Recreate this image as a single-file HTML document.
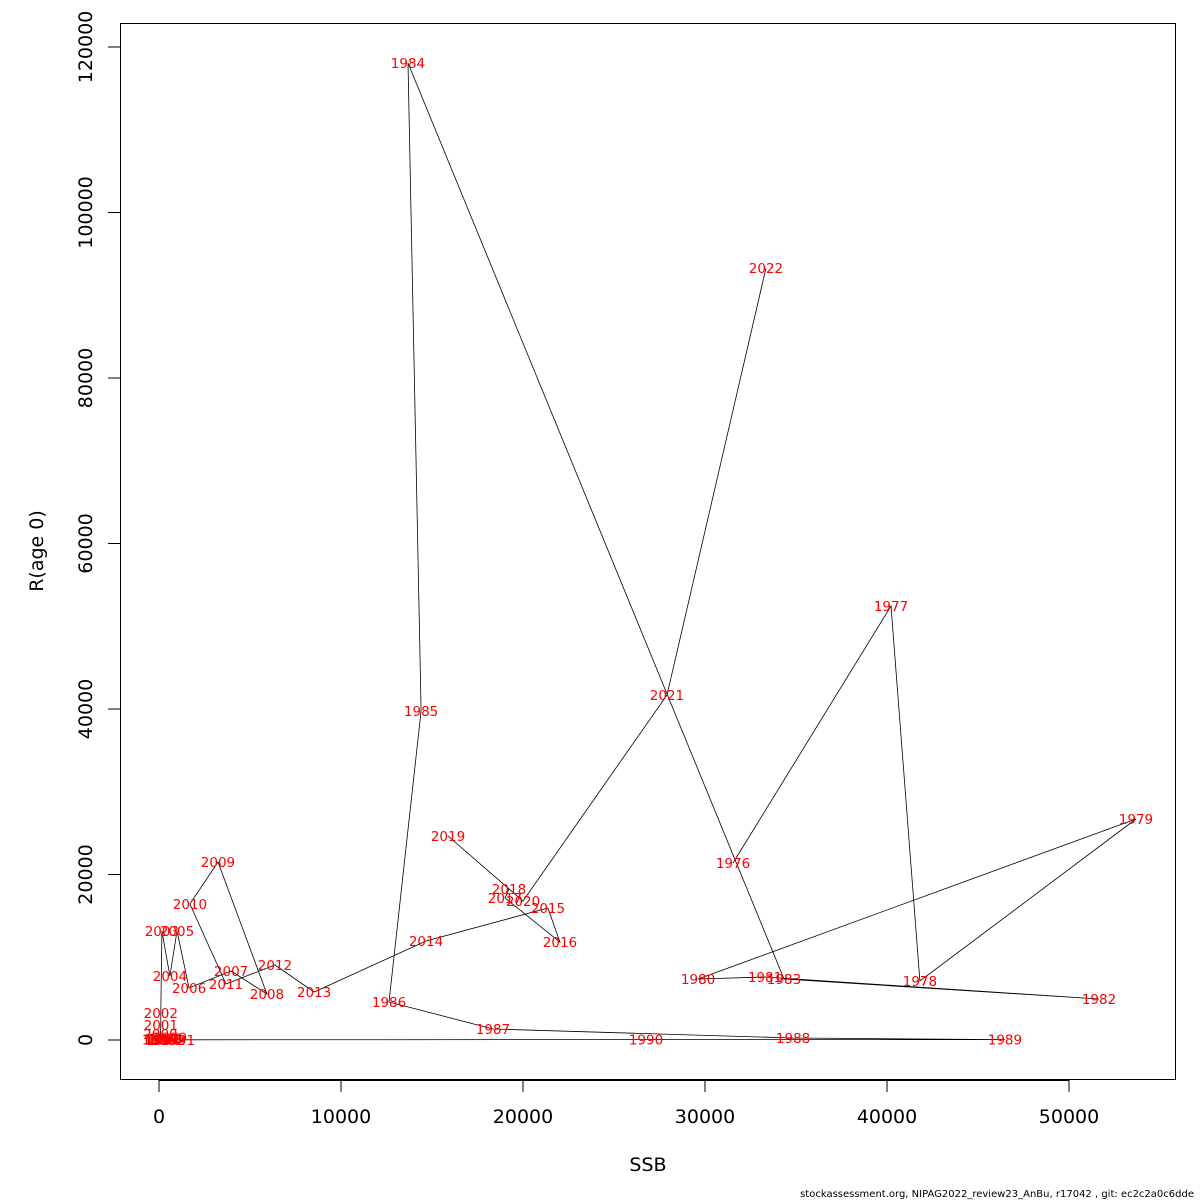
<!DOCTYPE html>
<html><head><meta charset="utf-8"><style>
html,body{margin:0;padding:0;background:#fff;width:1200px;height:1200px;overflow:hidden}
svg{display:block;font-family:"DejaVu Sans","Liberation Sans",sans-serif}
</style></head><body>
<svg id="chart" width="1200" height="1200" viewBox="0 0 1200 1200" xmlns="http://www.w3.org/2000/svg">
<rect x="120.5" y="23.5" width="1055" height="1056" fill="none" stroke="#000" stroke-width="1"/>
<text x="648" y="1171" font-size="19" text-anchor="middle">SSB</text>
<text transform="translate(43,551) rotate(-90)" font-size="19" text-anchor="middle">R(age 0)</text>
<text x="1194" y="1197" font-size="10" text-anchor="end">stockassessment.org, NIPAG2022_review23_AnBu, r17042 , git: ec2c2a0c6dde</text>
<g id="xaxis"></g>
<g id="yaxis"></g>
<g id="series"></g>
<g id="labels"></g>
</svg>
<script>
const years = [1976,1977,1978,1979,1980,1981,1982,1983,1984,1985,1986,1987,1988,1989,1990,1991,1992,1993,1994,1995,1996,1997,1998,1999,2000,2001,2002,2003,2004,2005,2006,2007,2008,2009,2010,2011,2012,2013,2014,2015,2016,2017,2018,2019,2020,2021,2022];
const ssb = [31540,40220,41810,53680,29620,33300,51650,34340,13680,14400,12640,18350,34840,46480,26760,1040,500,300,200,100,0,150,350,600,80,100,100,160,600,990,1650,3960,5930,3240,1700,3680,6370,8520,14670,21370,22030,19010,19230,15880,20000,27910,33350];
const rec = [21390,52450,7130,26710,7370,7610,4950,7370,118070,39760,4590,1330,240,50,50,30,20,40,30,60,50,100,200,300,700,1800,3260,13170,7730,13170,6280,8340,5560,21510,16430,6770,9060,5800,11960,15950,11840,17160,18250,24650,16800,41690,93290];
const xTicks = [0,10000,20000,30000,40000,50000];
const yTicks = [0,20000,40000,60000,80000,100000,120000];
const NS='http://www.w3.org/2000/svg';
const sx = v => 159 + v*0.0182;
const sy = v => 1040 - v*0.008275;
function mk(tag, attrs, parent){const e=document.createElementNS(NS,tag);for(const k in attrs)e.setAttribute(k,attrs[k]);parent.appendChild(e);return e;}
const xa=document.getElementById('xaxis'), ya=document.getElementById('yaxis');
mk('line',{x1:sx(xTicks[0]),x2:sx(xTicks[xTicks.length-1]),y1:1080.5,y2:1080.5,stroke:'#000'},xa);
xTicks.forEach(t=>{
  const l=mk('line',{x1:sx(t),x2:sx(t),y1:1080,y2:1092,stroke:'#000'},xa);
  
  
  const tx=mk('text',{x:sx(t),y:1123,'font-size':19,'text-anchor':'middle'},xa);
  tx.textContent=t;
  
  
});
mk('line',{x1:120.5,x2:120.5,y1:sy(yTicks[0]),y2:sy(yTicks[yTicks.length-1]),stroke:'#000'},ya);
yTicks.forEach(t=>{
  const l=mk('line',{x1:108,x2:120,y1:sy(t),y2:sy(t),stroke:'#000'},ya);
  
  
  const tx=mk('text',{transform:`translate(92,${sy(t)}) rotate(-90)`,'font-size':19,'text-anchor':'middle'},ya);
  tx.textContent=t;
  
  
});
const sg=document.getElementById('series');
const pts=ssb.map((v,i)=>sx(v).toFixed(1)+','+sy(rec[i]).toFixed(1)).join(' ');
const pl=mk('polyline',{points:pts,fill:'none',stroke:'#000','stroke-width':0.8},sg);


const lg=document.getElementById('labels');
years.forEach((y,i)=>{
  const t=mk('text',{x:sx(ssb[i]),y:sy(rec[i])+5,'font-size':13.5,fill:'#ff0000','text-anchor':'middle'},lg);
  t.textContent=y;
  
  
});
</script>
</body></html>
